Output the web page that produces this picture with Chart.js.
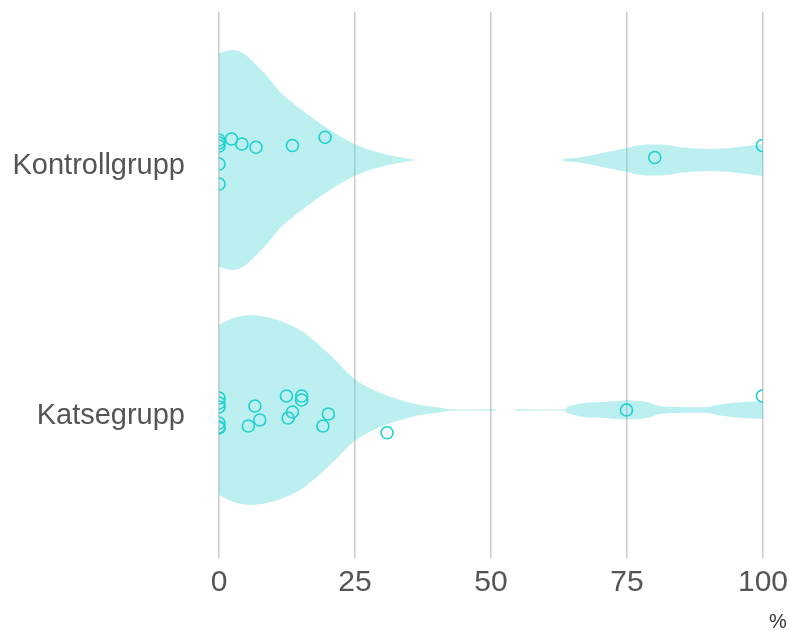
<!DOCTYPE html>
<html>
<head>
<meta charset="utf-8">
<script src="https://cdn.jsdelivr.net/npm/chart.js@4.4.1/dist/chart.umd.min.js"></script>
<style>
  html, body { margin: 0; padding: 0; background: #fff; }
  #wrap { width: 789px; height: 630px; }
</style>
</head>
<body>
<div id="wrap"><canvas id="chartCanvas"></canvas></div>
<script>
// kategooriad (y = 2 ülemine, y = 1 alumine)
const categories = ["Katsegrupp", "Kontrollgrupp"];
const xTicks = [0, 25, 50, 75, 100];

// viiuli kontuurid: x (%) ja poollaius (kategooria ühikutes)
const kontrollX1 = [0, 2.6, 4.4, 6.3, 8.8, 11.2, 13.6, 16.7, 19.8, 22.8, 25.3, 28.3, 32, 34, 36];
const kontrollW1 = [0.428, 0.44, 0.428, 0.392, 0.336, 0.272, 0.228, 0.176, 0.128, 0.088, 0.06, 0.036, 0.016, 0.008, 0.002];
const kontrollX2 = [63.2, 66.9, 71.3, 75, 77.4, 80, 82.3, 85.3, 89.7, 94, 97, 100];
const kontrollW2 = [0.004, 0.012, 0.032, 0.048, 0.06, 0.062, 0.06, 0.05, 0.044, 0.048, 0.056, 0.064];

const katseX1 = [0, 2.6, 5.7, 8.8, 11.8, 14.9, 18, 21, 24.7, 28.4, 33.3, 37, 40.5, 42.5, 51];
const katseW1 = [0.34, 0.368, 0.38, 0.372, 0.352, 0.32, 0.268, 0.208, 0.128, 0.08, 0.04, 0.02, 0.01, 0.003, 0.003];
const katseX2 = [54.4, 63.6, 64, 67, 70.6, 74.3, 78.7, 81, 84, 90, 91.5, 94, 96.3, 100];
const katseW2 = [0.003, 0.003, 0.012, 0.028, 0.032, 0.038, 0.032, 0.016, 0.012, 0.012, 0.02, 0.028, 0.032, 0.036];

// üksikvaatlused: x (%) ja juhuslik nihe (kategooria ühikutes)
const kontrollPts = [0, 0, 0, 0, 0, 2.3, 4.2, 6.8, 13.5, 19.5, 80.1, 99.9];
const kontrollJit = [0.08, 0.068, 0.056, -0.016, -0.096, 0.084, 0.064, 0.051, 0.058, 0.091, 0.01, 0.058];
const katsePts = [0, 0, 0, 0, 0, 0, 6.6, 5.4, 7.5, 12.4, 15.2, 15.2, 13.5, 12.7, 20.1, 19.1, 30.9, 74.9, 99.9];
const katseJit = [0.048, 0.028, 0.012, -0.052, -0.068, -0.072, 0.016, -0.064, -0.04, 0.056, 0.056, 0.04, -0.008, -0.032, -0.016, -0.064, -0.091, 0, 0.056];

const teal = "rgb(30, 208, 208)";
const violinFill = "rgba(64, 210, 210, 0.35)";

function violin(xs, ws, center) {
  const upper = xs.map((x, i) => ({ x: x, y: center + ws[i] }));
  const lower = xs.map((x, i) => ({ x: x, y: center - ws[i] }));
  return [upper, lower];
}

function points(xs, jit, center) {
  return xs.map((x, i) => ({ x: x, y: center + jit[i] }));
}

const datasets = [];

// punktid pealmiseks
datasets.push({
  data: points(kontrollPts, kontrollJit, 2),
  showLine: false, pointRadius: 6, pointBorderWidth: 1.6,
  pointBorderColor: teal, pointBackgroundColor: "rgba(0,0,0,0)", order: 0
});
datasets.push({
  data: points(katsePts, katseJit, 1),
  showLine: false, pointRadius: 6, pointBorderWidth: 1.6,
  pointBorderColor: teal, pointBackgroundColor: "rgba(0,0,0,0)", order: 0
});

// viiulid: ülemine serv + alumine serv täidetud ülemiseni
[[kontrollX1, kontrollW1, 2], [kontrollX2, kontrollW2, 2],
 [katseX1, katseW1, 1], [katseX2, katseW2, 1]].forEach(v => {
  const [up, lo] = violin(v[0], v[1], v[2]);
  const idx = datasets.length;
  datasets.push({
    data: up, showLine: true, borderWidth: 0, borderColor: "rgba(0,0,0,0)",
    pointRadius: 0, tension: 0.3, fill: false, order: 1
  });
  datasets.push({
    data: lo, showLine: true, borderWidth: 0, borderColor: "rgba(0,0,0,0)",
    pointRadius: 0, tension: 0.3, fill: idx, backgroundColor: violinFill, order: 1
  });
});

// "%" telje lõppu
const percentLabel = {
  id: "percentLabel",
  afterDraw(chart) {
    const ctx = chart.ctx;
    ctx.save();
    ctx.font = "20px 'Liberation Sans', Arial, sans-serif";
    ctx.fillStyle = "#333";
    ctx.textAlign = "center";
    ctx.textBaseline = "alphabetic";
    ctx.fillText("%", 778, 628);
    ctx.restore();
  }
};

new Chart(document.getElementById("chartCanvas"), {
  type: "scatter",
  data: { datasets: datasets },
  plugins: [percentLabel],
  options: {
    responsive: true,
    maintainAspectRatio: false,
    animation: false,
    layout: { padding: { top: 12, right: 26, left: 0, bottom: 0 } },
    plugins: { legend: { display: false }, tooltip: { enabled: false } },
    scales: {
      x: {
        type: "linear", min: 0, max: 100,
        afterBuildTicks: s => { s.ticks = xTicks.map(v => ({ value: v })); },
        afterFit: s => { s.height = 72; s.paddingLeft = 0; s.paddingRight = 0; },
        grid: { color: "#cccccc", lineWidth: 1.5, drawTicks: false },
        border: { display: false },
        ticks: {
          padding: 7, color: "#555",
          font: { family: "'Liberation Sans', Arial, sans-serif", size: 30 }
        }
      },
      y: {
        type: "linear", min: 0.408, max: 2.592,
        afterBuildTicks: s => { s.ticks = [{ value: 1 }, { value: 2 }]; },
        afterFit: s => { s.width = 219; s.paddingTop = 0; s.paddingBottom = 0; },
        grid: { display: false, drawTicks: false },
        border: { display: false },
        ticks: {
          padding: 34, color: "#555", labelOffset: 6,
          font: { family: "'Liberation Sans', Arial, sans-serif", size: 29 },
          callback: v => categories[v - 1]
        }
      }
    }
  }
});
</script>
</body>
</html>
